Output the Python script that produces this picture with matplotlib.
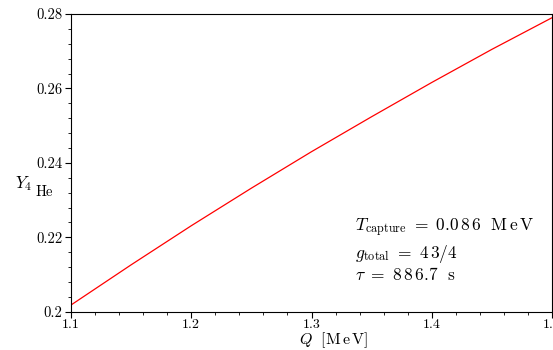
import numpy as np
import matplotlib
matplotlib.use('Agg')
import matplotlib.pyplot as plt
from matplotlib.ticker import MultipleLocator

# Helium-4 mass fraction vs neutron-proton mass difference Q
Q = [1.10, 1.15, 1.20, 1.25, 1.30, 1.35, 1.40, 1.45, 1.50]
Y4He = [0.2018, 0.2126, 0.2231, 0.2332, 0.2430, 0.2524, 0.2616, 0.2705, 0.2790]
x_ticks = [1.1, 1.2, 1.3, 1.4, 1.5]
y_ticks = [0.20, 0.22, 0.24, 0.26, 0.28]
x_tick_labels = ['1.1', '1.2', '1.3', '1.4', '1.5']
y_tick_labels = ['0.2', '0.22', '0.24', '0.26', '0.28']

plt.rcParams['mathtext.fontset'] = 'cm'
plt.rcParams['font.family'] = 'serif'
plt.rcParams['font.serif'] = ['cmr10']
plt.rcParams['axes.formatter.use_mathtext'] = True

fig = plt.figure(figsize=(5.53, 3.5), dpi=100)
ax = fig.add_axes([0.1284, 0.1094, 0.8698, 0.8506])

ax.plot(Q, Y4He, color='red', linewidth=0.9)

ax.set_xlim(1.1, 1.5)
ax.set_ylim(0.2, 0.28)
ax.set_xticks(x_ticks)
ax.set_xticklabels(x_tick_labels)
ax.set_yticks(y_ticks)
ax.set_yticklabels(y_tick_labels)
ax.xaxis.set_minor_locator(MultipleLocator(0.02))
ax.yaxis.set_minor_locator(MultipleLocator(0.004))
ax.tick_params(which='major', direction='out', length=4, width=0.8, labelsize=10.5, pad=2)
ax.tick_params(axis='x', which='major', pad=1, labelsize=10)
ax.tick_params(which='minor', direction='out', length=2, width=0.6)

ax.set_xlabel(r'$Q\ \ [\mathrm{M\,e\,V}]$', fontsize=11.5, va='center')
ax.xaxis.set_label_coords(0.545, -0.096)

# y label: Y with subscript 4 and a lower "He"
fig.text(0.027, 0.475, r'$Y_4$', fontsize=12, ha='left', va='center')
fig.text(0.063, 0.452, r'$\mathrm{He}$', fontsize=10.5, ha='left', va='center')

ax.text(0.59, 0.27, r'$T_{\mathrm{capture}}\ =\ 0.0\,8\,6\ \ \mathrm{M\,e\,V}$', transform=ax.transAxes, fontsize=12.5)
ax.text(0.59, 0.18, r'$g_{\mathrm{total}}\ =\ 4\,3/4$', transform=ax.transAxes, fontsize=12.5)
ax.text(0.59, 0.105, r'$\tau\ =\ 8\,8\,6.7\ \ \mathrm{s}$', transform=ax.transAxes, fontsize=12.5)

fig.savefig('out.png', dpi=100)
